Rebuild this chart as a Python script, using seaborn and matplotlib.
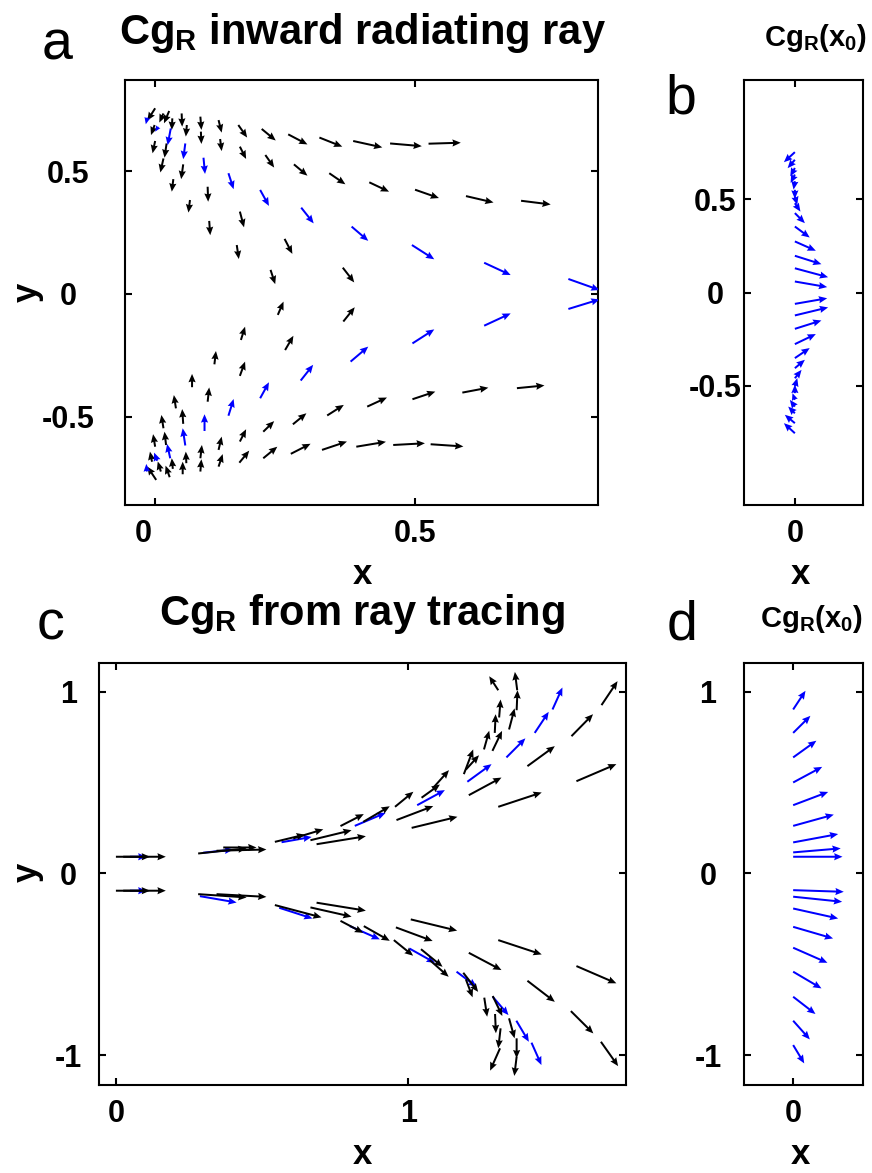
import matplotlib
matplotlib.use("Agg")
import matplotlib.pyplot as plt
import matplotlib.transforms as mtrans
import seaborn as sns
from matplotlib import font_manager

# ---------------- data ----------------
# panel a : black arrows (tail x, tail y, dx, dy)
a_blk_x = [0.000, 0.016, 0.027, -0.001, 0.033, 0.051, 0.061, 0.087, 0.088, 0.122, 0.125, 0.160, 0.163,
           0.205, 0.212, 0.256, 0.267, 0.316, 0.335, 0.381, 0.452, 0.526, 0.412, 0.500, 0.598, 0.704,
           0.000, 0.022, 0.016, 0.054, 0.035, 0.101, 0.067, 0.163, 0.104, 0.249, 0.157, 0.361, 0.222,
           0.236, 0.362, 0.165, 0.250, 0.114, 0.163, 0.071, 0.101, 0.040, 0.054, 0.016, 0.021, 0.000,
           0.163, 0.122, 0.087, 0.208, 0.265, 0.331, 0.408, 0.495, 0.591, 0.696, 0.162, 0.208, 0.261,
           0.321, 0.387, 0.458, 0.530, 0.002, -0.006, 0.011, 0.028, 0.034, 0.053, 0.060, 0.087, 0.122]
a_blk_y = [0.755, 0.734, 0.744, 0.687, 0.714, 0.734, 0.687, 0.721, 0.660, 0.707, 0.630, 0.687, 0.599,
           0.671, 0.565, 0.649, 0.527, 0.636, 0.491, 0.622, 0.612, 0.611, 0.454, 0.424, 0.398, 0.379,
           0.622, 0.612, 0.551, 0.527, 0.467, 0.436, 0.382, 0.335, 0.297, 0.224, 0.199, 0.107, 0.098,
           -0.085, -0.112, -0.187, -0.228, -0.286, -0.333, -0.379, -0.438, -0.465, -0.528, -0.546, -0.614, -0.621,
           -0.600, -0.634, -0.668, -0.560, -0.530, -0.494, -0.458, -0.428, -0.401, -0.383, -0.686, -0.668, -0.650,
           -0.634, -0.621, -0.614, -0.611, -0.756, -0.682, -0.722, -0.745, -0.711, -0.733, -0.688, -0.722, -0.702]
a_blk_u = [-0.015, -0.008, -0.010, -0.007, -0.001, 0.001, -0.002, 0.002, 0.001, 0.006, 0.003, 0.017, 0.012,
           0.027, 0.017, 0.037, 0.026, 0.044, 0.031, 0.056, 0.061, 0.062, 0.038, 0.046, 0.053, 0.057,
           -0.005, -0.004, -0.006, -0.004, -0.003, 0.001, -0.003, 0.008, 0.002, 0.015, 0.004, 0.022, 0.009,
           0.011, 0.022, 0.008, 0.016, 0.003, 0.010, 0.000, 0.003, -0.004, -0.002, -0.004, -0.003, -0.004,
           0.012, 0.006, 0.003, 0.021, 0.026, 0.032, 0.038, 0.044, 0.050, 0.053, 0.019, 0.027, 0.038,
           0.048, 0.057, 0.061, 0.063, -0.017, -0.004, -0.006, -0.008, -0.002, 0.000, -0.001, 0.002, 0.008]
a_blk_v = [-0.050, -0.037, -0.050, -0.041, -0.047, -0.054, -0.047, -0.054, -0.050, -0.051, -0.049, -0.051, -0.050,
           -0.047, -0.051, -0.041, -0.046, -0.037, -0.045, -0.026, -0.011, 0.004, -0.038, -0.034, -0.026, -0.015,
           -0.050, -0.058, -0.057, -0.060, -0.051, -0.061, -0.051, -0.064, -0.058, -0.061, -0.057, -0.060, -0.058,
           0.054, 0.058, 0.054, 0.058, 0.054, 0.058, 0.054, 0.058, 0.054, 0.060, 0.054, 0.054, 0.051,
           0.050, 0.054, 0.054, 0.043, 0.045, 0.043, 0.037, 0.031, 0.020, 0.011, 0.049, 0.047, 0.041,
           0.034, 0.020, 0.007, -0.009, 0.054, 0.041, 0.041, 0.047, 0.043, 0.051, 0.047, 0.050, 0.051]

# panel a : blue arrows
a_blu_x = [-0.015, 0.006, 0.030, 0.058, 0.093, 0.141, 0.202, 0.281, 0.378, 0.494, 0.633, 0.795,
           -0.016, 0.004, 0.029, 0.058, 0.095, 0.141, 0.202, 0.280, 0.376, 0.495, 0.633, 0.795]
a_blu_y = [0.717, 0.680, 0.673, 0.612, 0.554, 0.491, 0.423, 0.351, 0.274, 0.199, 0.127, 0.061,
           -0.722, -0.678, -0.668, -0.616, -0.557, -0.495, -0.424, -0.352, -0.275, -0.201, -0.129, -0.061]
a_blu_u = [-0.003, -0.006, -0.006, -0.004, 0.003, 0.010, 0.017, 0.024, 0.032, 0.043, 0.051, 0.060,
           -0.001, -0.006, -0.006, -0.005, 0.000, 0.010, 0.017, 0.024, 0.034, 0.042, 0.051, 0.060]
a_blu_v = [-0.027, -0.020, -0.068, -0.064, -0.066, -0.065, -0.065, -0.064, -0.058, -0.058, -0.050, -0.045,
           0.031, 0.033, 0.058, 0.070, 0.068, 0.068, 0.065, 0.064, 0.061, 0.057, 0.050, 0.039]

# panel b : Cg_R(x0), tails at x = 0
b_y = [0.753, 0.712, 0.668, 0.633, 0.597, 0.551, 0.515, 0.479, 0.426, 0.354, 0.274, 0.197, 0.130, 0.059,
       -0.061, -0.123, -0.195, -0.277, -0.352, -0.406, -0.460, -0.504, -0.540, -0.576, -0.612, -0.648, -0.701, -0.755]
b_u = [-0.059, -0.039, -0.025, -0.023, -0.007, 0.000, 0.013, 0.030, 0.054, 0.080, 0.113, 0.143, 0.179, 0.174,
       0.174, 0.179, 0.143, 0.113, 0.080, 0.054, 0.036, 0.013, 0.000, -0.013, -0.027, -0.036, -0.054, -0.059]
b_v = [-0.054, -0.045, -0.045, -0.045, -0.045, -0.048, -0.045, -0.045, -0.054, -0.059, -0.050, -0.045, -0.048, -0.030,
       0.030, 0.043, 0.045, 0.054, 0.054, 0.045, 0.045, 0.045, 0.045, 0.036, 0.036, 0.036, 0.045, 0.054]

# panel c : black arrows
c_blk_x = [-0.002, 0.023, 0.280, 0.343, 0.366, 0.543, 0.606, 0.665, 0.686, 0.768, 0.846, 0.955, 0.960,
           1.012, 1.046, 1.084, 1.208, 1.191, 1.198, 1.260, 1.289, 1.297, 1.312, 1.309, 1.346, 1.372,
           1.374, 1.409, 1.309, 1.560, 1.663, 1.577,
           -0.002, 0.023, 0.280, 0.343, 0.543, 0.665, 0.686, 0.768, 0.848, 0.951, 0.958, 1.009, 1.044,
           1.074, 1.208, 1.189, 1.198, 1.261, 1.290, 1.298, 1.317, 1.315, 1.346, 1.372, 1.372, 1.409,
           1.309, 1.558, 1.661, 1.577]
c_blk_y = [0.092, 0.092, 0.110, 0.125, 0.143, 0.174, 0.193, 0.183, 0.161, 0.261, 0.284, 0.367, 0.294,
           0.251, 0.417, 0.468, 0.431, 0.547, 0.572, 0.683, 0.675, 0.774, 0.859, 1.009, 0.793, 0.899,
           1.009, 0.591, 0.367, 0.756, 0.927, 0.508,
           -0.095, -0.095, -0.114, -0.114, -0.174, -0.187, -0.161, -0.261, -0.290, -0.367, -0.297, -0.253, -0.417,
           -0.477, -0.437, -0.547, -0.583, -0.684, -0.675, -0.774, -0.853, -0.963, -0.798, -0.908, -1.009, -0.591,
           -0.367, -0.758, -0.927, -0.510]
c_blk_u = [0.117, 0.146, 0.166, 0.171, 0.114, 0.103, 0.103, 0.141, 0.169, 0.080, 0.091, 0.063, 0.126,
           0.157, 0.063, 0.056, 0.112, 0.032, 0.045, 0.018, 0.033, 0.003, 0.005, -0.031, 0.019, 0.003,
           -0.008, 0.094, 0.149, 0.074, 0.055, 0.137,
           0.117, 0.146, 0.166, 0.171, 0.160, 0.141, 0.169, 0.078, 0.089, 0.066, 0.126, 0.159, 0.074,
           0.065, 0.112, 0.051, 0.023, 0.010, 0.033, 0.003, -0.008, -0.034, 0.019, 0.000, -0.008, 0.094,
           0.149, 0.077, 0.059, 0.137]
c_blk_v = [0.000, 0.000, 0.028, 0.007, 0.000, 0.040, 0.050, 0.055, 0.044, 0.066, 0.086, 0.083, 0.077,
           0.061, 0.073, 0.101, 0.097, 0.136, 0.079, 0.103, 0.110, 0.103, 0.099, 0.077, 0.116, 0.110,
           0.101, 0.110, 0.079, 0.121, 0.132, 0.094,
           0.000, 0.000, -0.018, -0.015, -0.068, -0.051, -0.044, -0.066, -0.081, -0.086, -0.075, -0.062, -0.097,
           -0.092, -0.095, -0.105, -0.099, -0.105, -0.110, -0.106, -0.110, -0.123, -0.110, -0.110, -0.106, -0.116,
           -0.079, -0.123, -0.134, -0.095]

# panel c : blue arrows (highlighted rays)
c_blu_x = [0.046, 0.297, 0.566, 0.817, 1.031, 1.203, 1.337, 1.434, 1.495,
           0.046, 0.286, 0.558, 0.800, 1.004, 1.166, 1.290, 1.371, 1.423]
c_blu_y = [0.092, 0.114, 0.172, 0.262, 0.376, 0.505, 0.639, 0.774, 0.903,
           -0.095, -0.125, -0.189, -0.290, -0.413, -0.541, -0.679, -0.811, -0.932]
c_blu_u = [0.057, 0.103, 0.103, 0.106, 0.095, 0.083, 0.065, 0.048, 0.034,
           0.057, 0.126, 0.114, 0.103, 0.088, 0.069, 0.054, 0.043, 0.034]
c_blu_v = [0.000, 0.018, 0.029, 0.072, 0.083, 0.097, 0.105, 0.116, 0.121,
           0.000, -0.035, -0.059, -0.073, -0.079, -0.083, -0.101, -0.116, -0.123]

# panel d : Cg_R(x0), tails at x = 0
d_y = [0.903, 0.774, 0.639, 0.501, 0.376, 0.262, 0.171, 0.116, 0.092,
       -0.092, -0.128, -0.193, -0.294, -0.409, -0.541, -0.679, -0.811, -0.945]
d_u = [0.068, 0.095, 0.128, 0.160, 0.193, 0.224, 0.248, 0.262, 0.272,
       0.279, 0.270, 0.248, 0.220, 0.189, 0.156, 0.123, 0.092, 0.061]
d_v = [0.103, 0.094, 0.092, 0.086, 0.073, 0.062, 0.046, 0.022, 0.000,
       -0.009, -0.028, -0.055, -0.064, -0.083, -0.092, -0.095, -0.103, -0.101]

titles = ["Cg$_\\mathregular{R}$ inward radiating ray", "Cg$_\\mathregular{R}$(x$_\\mathregular{0}$)",
          "Cg$_\\mathregular{R}$ from ray tracing", "Cg$_\\mathregular{R}$(x$_\\mathregular{0}$)"]
letters = ["a", "b", "c", "d"]

# ---------------- style ----------------
sns.set_theme(style="ticks")
avail = {f.name for f in font_manager.fontManager.ttflist}
main = "Liberation Sans Narrow" if "Liberation Sans Narrow" in avail else "Liberation Sans"
plt.rcParams["font.family"] = [main, "DejaVu Sans"]
plt.rcParams["mathtext.default"] = "regular"
for k in ["text.color", "axes.labelcolor", "xtick.color", "ytick.color", "axes.edgecolor"]:
    plt.rcParams[k] = "black"

W, H = 872, 1173
fig = plt.figure(figsize=(W / 100, H / 100), dpi=100)


def px_axes(l, t, r, b):
    return fig.add_axes([l / W, 1 - b / H, (r - l) / W, (b - t) / H])


axA = px_axes(125, 80, 598, 505)
axB = px_axes(744, 80, 863, 505)
axC = px_axes(99, 663, 626, 1085)
axD = px_axes(744, 663, 863, 1085)

qkw = dict(angles="xy", scale_units="xy", scale=1, units="dots", width=2.0,
           headwidth=3.6, headlength=4.2, headaxislength=3.8, zorder=3)
BLUE = "#0000ff"

axA.quiver(a_blk_x, a_blk_y, a_blk_u, a_blk_v, color="black", **qkw)
axA.quiver(a_blu_x, a_blu_y, a_blu_u, a_blu_v, color=BLUE, **qkw)
axB.quiver([0.0] * len(b_y), b_y, b_u, b_v, color=BLUE, **qkw)
axC.quiver(c_blu_x, c_blu_y, c_blu_u, c_blu_v, color=BLUE, **qkw)
axC.quiver(c_blk_x, c_blk_y, c_blk_u, c_blk_v, color="black", **qkw)
axD.quiver([0.0] * len(d_y), d_y, d_u, d_v, color=BLUE, **qkw)

axA.set_xlim(-0.058, 0.852); axA.set_ylim(-0.858, 0.870)
axB.set_xlim(-0.274, 0.367); axB.set_ylim(-1.14, 1.14)
axC.set_xlim(-0.060, 1.747); axC.set_ylim(-1.165, 1.159)
axD.set_xlim(-0.271, 0.385); axD.set_ylim(-1.165, 1.159)

TICK = 22
setup = [
    (axA, [0, 0.5], ["0", "0.5"], [-0.5, 0, 0.5], ["-0.5", "0", "0.5"], 41),
    (axB, [0], ["0"], [-0.5, 0, 0.5], ["-0.5", "0", "0.5"], 21),
    (axC, [0, 1], ["0", "1"], [-1, 0, 1], ["-1", "0", "1"], 22),
    (axD, [0], ["0"], [-1, 0, 1], ["-1", "0", "1"], 26),
]
for ax, xt, xl, yt, yl, ypad in setup:
    ax.set_xticks(xt)
    ax.set_xticklabels(xl, fontsize=TICK, fontweight="bold")
    ax.set_yticks(yt)
    ax.set_yticklabels(yl, fontsize=TICK, fontweight="bold", ha="center")
    ax.tick_params(direction="in", length=5, width=1.5, top=True, right=True, colors="black")
    ax.tick_params(axis="x", pad=10)
    ax.tick_params(axis="y", pad=ypad)
    for s in ax.spines.values():
        s.set_linewidth(1.5)
        s.set_color("black")
    ax.set_facecolor("white")
    ax.grid(False)

# the "0" label of panel a sits a little left of its tick in the reference
lab0 = axA.get_xticklabels()[0]
lab0.set_transform(lab0.get_transform() + mtrans.ScaledTranslation(-0.12, 0, fig.dpi_scale_trans))


def ftext(x, y, s, **kw):
    fig.text(x / W, 1 - y / H, s, **kw)


LAB = 25
ftext(362, 575, "x", fontsize=LAB, fontweight="bold", ha="center", va="center")
ftext(800, 575, "x", fontsize=LAB, fontweight="bold", ha="center", va="center")
ftext(362, 1154, "x", fontsize=LAB, fontweight="bold", ha="center", va="center")
ftext(800, 1154, "x", fontsize=LAB, fontweight="bold", ha="center", va="center")
ftext(27, 292, "y", fontsize=LAB, fontweight="bold", ha="center", va="center", rotation=90)
ftext(27, 872, "y", fontsize=LAB, fontweight="bold", ha="center", va="center", rotation=90)

TT = 30
ftext(362, 44, titles[0], fontsize=TT, fontweight="bold", ha="center", va="baseline")
ftext(816, 46, titles[1], fontsize=21, fontweight="bold", ha="center", va="baseline")
ftext(362, 625, titles[2], fontsize=TT, fontweight="bold", ha="center", va="baseline")
ftext(812, 627, titles[3], fontsize=21, fontweight="bold", ha="center", va="baseline")

LL = 40
ftext(57, 60, letters[0], fontsize=LL, ha="center", va="baseline")
ftext(681, 114, letters[1], fontsize=LL, ha="center", va="baseline")
ftext(50, 640, letters[2], fontsize=LL, ha="center", va="baseline")
ftext(682, 640, letters[3], fontsize=LL, ha="center", va="baseline")

fig.savefig("out.png", dpi=100, facecolor="white")
